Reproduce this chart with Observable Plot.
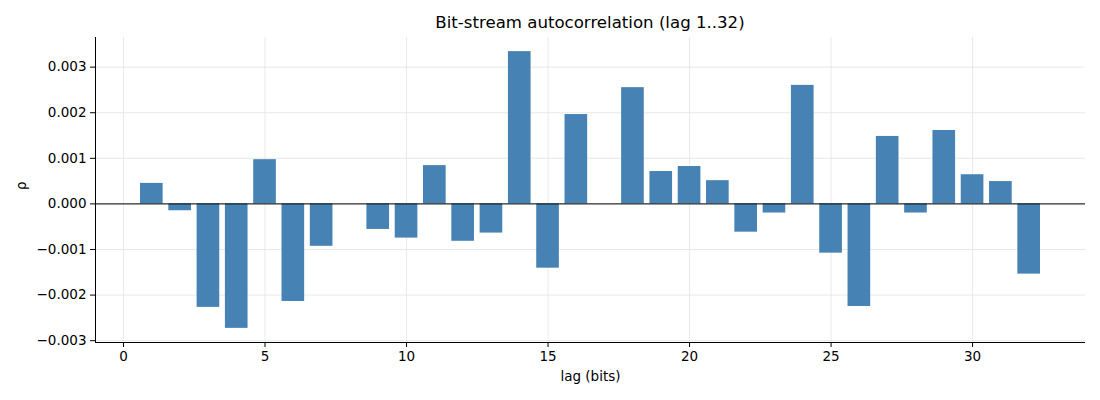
<!DOCTYPE html>
<html><head><meta charset="utf-8">
<script src="https://cdn.jsdelivr.net/npm/d3@7"></script>
<script src="https://cdn.jsdelivr.net/npm/@observablehq/plot@0.6"></script>
<style>
body{margin:0;background:#fff;font-family:"DejaVu Sans",sans-serif;}
#wrap{position:relative;width:1100px;height:400px;}
#title{position:absolute;left:95px;width:990px;top:13px;text-align:center;font-size:16.6px;color:#000;z-index:2;}
#chart{position:absolute;left:0;top:0;z-index:1;}
</style></head>
<body><div id="wrap"><div id="title">Bit-stream autocorrelation (lag 1..32)</div><div id="chart"></div></div>
<script>
const lags = d3.range(1, 33);
const rho = [0.00045, -0.00015, -0.00227, -0.00273, 0.00097, -0.00214, -0.00093, 0.0,
  -0.00056, -0.00075, 0.00084, -0.00082, -0.00064, 0.00334, -0.00141, 0.00196,
  0.0, 0.00255, 0.00071, 0.00082, 0.00051, -0.00062, -0.00020, 0.00260,
  -0.00108, -0.00225, 0.00148, -0.00020, 0.00161, 0.00064, 0.00049, -0.00154];
const xTicks = [0, 5, 10, 15, 20, 25, 30];
const yTicks = [-0.003, -0.002, -0.001, 0, 0.001, 0.002, 0.003];
const data = lags.map((l, i) => ({lag: l, rho: rho[i]}));
const xDom = [-0.99, 33.99], yDom = [-0.00304, 0.00365];
const chart = Plot.plot({
  width: 1100, height: 400,
  marginLeft: 95, marginRight: 15, marginTop: 37, marginBottom: 58,
  style: {fontFamily: "DejaVu Sans, sans-serif", fontSize: "13.5px", color: "#000", background: "transparent"},
  x: {domain: xDom, ticks: xTicks, tickFormat: d3.format("d"), label: null},
  y: {domain: yDom, ticks: yTicks, tickFormat: d3.format(".3f"), label: null},
  marks: [
    Plot.gridX(xTicks, {stroke: "#e3e3e3", strokeOpacity: 1, strokeWidth: 0.8}),
    Plot.gridY(yTicks, {stroke: "#e3e3e3", strokeOpacity: 1, strokeWidth: 0.8}),
    Plot.rectY(data, {x1: d => d.lag - 0.4, x2: d => d.lag + 0.4, y1: 0, y2: "rho", fill: "#4682b4"}),
    Plot.ruleY([0], {stroke: "#000", strokeWidth: 1}),
    Plot.axisX(xTicks, {tickSize: 5, tickPadding: 4, tickFormat: d3.format("d"), label: null, fontSize: 13.5}),
    Plot.axisY(yTicks, {tickSize: 5, tickPadding: 4, tickFormat: d3.format(".3f"), label: null, fontSize: 13.5}),
    Plot.ruleX([xDom[0]], {stroke: "#000", strokeWidth: 1}),
    Plot.ruleY([yDom[0]], {stroke: "#000", strokeWidth: 1}),
    Plot.text(["lag (bits)"], {frameAnchor: "bottom", dy: 38, fontSize: 13.5}),
    Plot.text(["ρ"], {frameAnchor: "left", dx: -74, rotate: -90, fontSize: 13.5})
  ]
});
document.getElementById("chart").appendChild(chart);
</script></body></html>
